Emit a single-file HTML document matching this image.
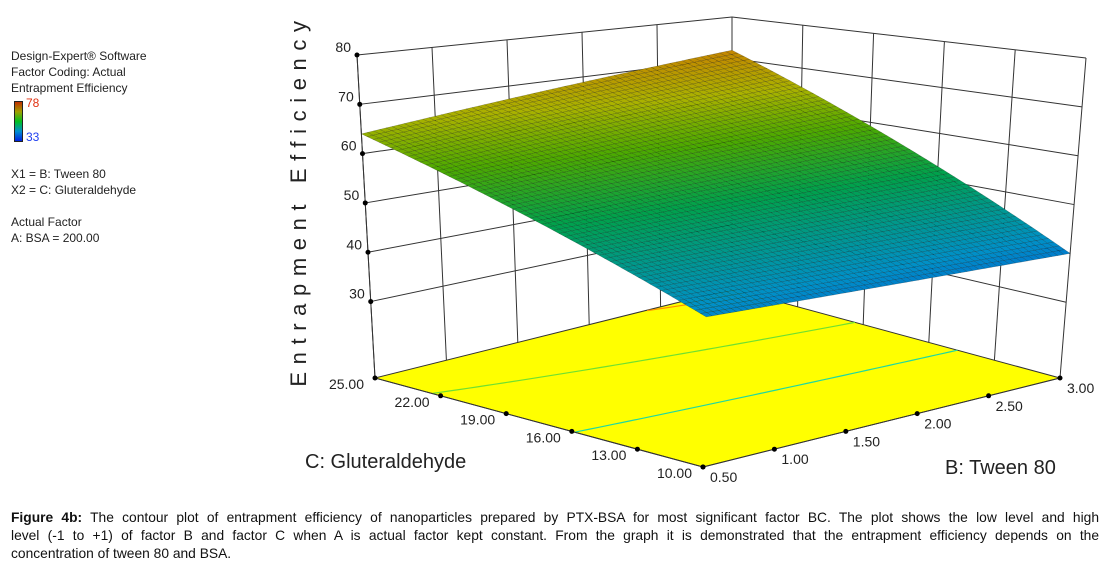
<!DOCTYPE html>
<html><head><meta charset="utf-8"><style>
body{margin:0;width:1111px;height:572px;background:#fff;overflow:hidden;font-family:"Liberation Sans",Arial,sans-serif;position:relative}
.leg{position:absolute;left:11px;font-size:12px;line-height:16px;color:#222}
#cap{position:absolute;left:11px;top:509px;width:1088px;font-size:13.8px;line-height:18px;color:#111}
#cap .j{text-align:justify;text-align-last:justify;white-space:nowrap}
#cap .j{white-space:normal}
</style></head><body>
<div class="leg" style="top:48px">Design-Expert® Software<br>Factor Coding: Actual<br>Entrapment Efficiency</div>
<div style="position:absolute;left:14px;top:101px;width:7px;height:39px;border:1px solid #222;background:linear-gradient(#c03000,#a0a000,#00c020,#0090d0,#0020e0)"></div>
<div style="position:absolute;left:26px;top:96px;font-size:12px;color:#e03010">78</div>
<div style="position:absolute;left:26px;top:130px;font-size:12px;color:#2040f0">33</div>
<div class="leg" style="top:166px">X1 = B: Tween 80<br>X2 = C: Gluteraldehyde<br><br>Actual Factor<br>A: BSA = 200.00</div>
<svg id="chart" width="1111" height="505" style="position:absolute;left:0;top:0;font-family:'Liberation Sans',Arial,sans-serif"></svg>
<div id="cap"><div class="j"><b>Figure 4b:</b> The contour plot of entrapment efficiency of nanoparticles prepared by PTX-BSA for most significant factor BC. The plot shows the low level and high</div><div class="j">level (-1 to +1) of factor B and factor C when A is actual factor kept constant. From the graph it is demonstrated that the entrapment efficiency depends on the</div><div>concentration of tween 80 and BSA.</div></div>
<script>
// data
const bTicks=[0.5,1.0,1.5,2.0,2.5,3.0];
const cTicks=[10,13,16,19,22,25];
const zTicks=[30,40,50,60,70,80];
// surface corner values: [B=0.5,C=10],[B=3,C=10],[B=0.5,C=25],[B=3,C=25]
const surfB=[0.5,3.0];
const surfC=[10,25];
const surfZ=[[41,40],[64,72]]; // surfZ[cIndex][bIndex]
const contourLevels=[50,60,70];
const zMin=14.5,zMax=80;

const NS="http://www.w3.org/2000/svg",svg=document.getElementById('chart');
function mk(t,a,p){const e=document.createElementNS(NS,t);for(const k in a)e.setAttribute(k,a[k]);(p||svg).appendChild(e);return e;}
const F={"00":[703,467],"10":[1060,378],"01":[375,378],"11":[732,289]};
const D={"00":[8,-371],"10":[26,-320],"01":[-18,-323],"11":[0,-272]};
function bl(M,u,v,i){return M["00"][i]*(1-u)*(1-v)+M["10"][i]*u*(1-v)+M["01"][i]*(1-u)*v+M["11"][i]*u*v;}
function P(B,C,z){const u=(B-0.5)/2.5,v=(C-10)/15,t=(z-zMin)/(zMax-zMin);return [bl(F,u,v,0)+t*bl(D,u,v,0),bl(F,u,v,1)+t*bl(D,u,v,1)];}
function zAt(B,C){const u=(B-surfB[0])/(surfB[1]-surfB[0]),v=(C-surfC[0])/(surfC[1]-surfC[0]);
 return surfZ[0][0]*(1-u)*(1-v)+surfZ[0][1]*u*(1-v)+surfZ[1][0]*(1-u)*v+surfZ[1][1]*u*v;}
function line(a,b,name,st){const e=mk('line',{x1:a[0],y1:a[1],x2:b[0],y2:b[1],stroke:st||'#333','stroke-width':1});
 return e;}
// walls
zTicks.forEach(z=>{line(P(0.5,25,z),P(3,25,z),'back-wall-gridline');line(P(3,25,z),P(3,10,z),'right-wall-gridline');});
bTicks.forEach(b=>line(P(b,25,zMin),P(b,25,zMax),'back-wall-vertical'));
cTicks.forEach(c=>line(P(3,c,zMin),P(3,c,zMax),'right-wall-vertical'));
// floor
const fl=[P(0.5,10,zMin),P(3,10,zMin),P(3,25,zMin),P(0.5,25,zMin)];
const floor=mk('polygon',{points:fl.map(p=>p.join(',')).join(' '),fill:'#ffff00',stroke:'#333','stroke-width':1});

const ccol={50:'#20d8a0',60:'#70e030',70:'#ff9000'};
contourLevels.forEach(L=>{const pts=[];for(let i=0;i<=50;i++){const B=0.5+2.5*i/50;
 const z0=zAt(B,10),z1=zAt(B,25);const t=(L-z0)/(z1-z0);if(t>=0&&t<=1)pts.push(P(B,10+15*t,zMin));}
 if(pts.length>1){const e=mk('polyline',{points:pts.map(p=>p.join(',')).join(' '),fill:'none',stroke:ccol[L]||'#40e040','stroke-width':1.2});
 }});
// colormap
const stops=[[0,[0,60,255]],[0.2,[0,170,235]],[0.42,[0,190,90]],[0.58,[90,200,0]],[0.72,[200,210,0]],[0.86,[230,160,0]],[1,[255,70,0]]];
function col(z){let t=(z-33)/45;t=Math.max(0,Math.min(1,t));for(let i=1;i<stops.length;i++)if(t<=stops[i][0]){const a=stops[i-1],b=stops[i],f=(t-a[0])/(b[0]-a[0]);
 return 'rgb('+[0,1,2].map(k=>Math.round((a[1][k]+(b[1][k]-a[1][k])*f)*0.85)).join(',')+')';}}
// surface
const g=mk('g',{});
const N=60;
for(let j=N-1;j>=0;j--)for(let i=0;i<N;i++){const B0=0.5+2.5*i/N,B1=0.5+2.5*(i+1)/N,C0=10+15*j/N,C1=10+15*(j+1)/N;
 const q=[[B0,C0],[B1,C0],[B1,C1],[B0,C1]].map(p=>P(p[0],p[1],zAt(p[0],p[1])));
 const c=col(zAt((B0+B1)/2,(C0+C1)/2));
 const e=mk('polygon',{points:q.map(p=>p.map(v=>v.toFixed(1)).join(',')).join(' '),fill:c,stroke:'rgba(0,0,0,0.3)','stroke-width':0.5},g);
 }
// front edges of box
line(P(0.5,25,zMin),P(0.5,25,zMax),'z-axis-line');
line(P(0.5,10,zMin),P(0.5,25,zMin),'c-axis-line');
line(P(0.5,10,zMin),P(3,10,zMin),'b-axis-line');
// ticks
function dot(p,name){const e=mk('circle',{cx:p[0],cy:p[1],r:2.5,fill:'#000'});}
function txt(x,y,s,anchor,name,size){const e=mk('text',{x:x,y:y,'font-size':size||14,'text-anchor':anchor,fill:'#222'});e.textContent=s;
 return e;}
zTicks.forEach(z=>{const p=P(0.5,25,z);dot(p,'z-tick');txt(p[0]-6,p[1]-3,String(z),'end','z-tick-label');});
cTicks.forEach(c=>{const p=P(0.5,c,zMin);dot(p,'c-tick');txt(p[0]-11,p[1]+11,c.toFixed(2),'end','c-tick-label');});
bTicks.forEach(b=>{const p=P(b,10,zMin);dot(p,'b-tick');txt(p[0]+7,p[1]+15,b.toFixed(2),'start','b-tick-label');});
const zt=txt(0,0,'Entrapment Efficiency','middle','z-axis-title',22);
zt.setAttribute('transform','translate(306,200) rotate(-90)');zt.setAttribute('letter-spacing','7.6');
txt(305,468,'C: Gluteraldehyde','start','c-axis-title',20);
txt(945,474,'B: Tween 80','start','b-axis-title',20);
</script>
</body></html>
